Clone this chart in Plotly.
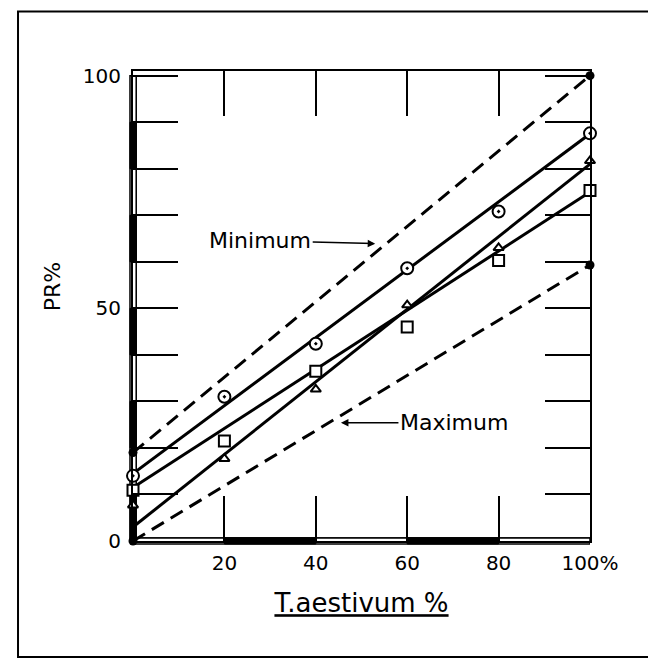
import plotly.graph_objects as go

# T. aestivum percentage in the mixture
x_vals = [0, 20, 40, 60, 80, 100]

# observed PR% values
pr_circle = [14, 31, 42.4, 58.6, 70.8, 87.6]
pr_square = [10.9, 21.5, 36.5, 46, 60.3, 75.3]
pr_triangle = [7.7, 17.7, 32.6, 50.7, 63, 81.7]

# fitted straight lines (end values)
fit_x = [0, 100]
fit_circle = [14.5, 87.5]
fit_square = [11.5, 75.0]
fit_triangle = [3.0, 81.0]

# theoretical limits
limit_x = [0, 100]
pr_minimum = [19, 100]
pr_maximum = [0, 59.3]

x_tickvals = [0, 20, 40, 60, 80, 100]
x_ticktext = ["", "20", "40", "60", "80", "100%"]
y_tickvals = [0, 10, 20, 30, 40, 50, 60, 70, 80, 90, 100]
y_ticktext = ["0", "", "", "", "", "50", "", "", "", "", "100"]

FONT = "DejaVu Sans"
fig = go.Figure()

dash_style = dict(color="black", width=3, dash="14px,8px")
fig.add_trace(go.Scatter(x=limit_x, y=pr_minimum, mode="lines+markers", cliponaxis=False,
                         line=dash_style, marker=dict(symbol="circle", size=9, color="black")))
fig.add_trace(go.Scatter(x=limit_x, y=pr_maximum, mode="lines+markers", cliponaxis=False,
                         line=dash_style, marker=dict(symbol="circle", size=9, color="black")))

solid = dict(color="black", width=3)
for fy in (fit_circle, fit_square, fit_triangle):
    fig.add_trace(go.Scatter(x=fit_x, y=fy, mode="lines", line=solid))

mk_line = dict(color="black", width=2)
fig.add_trace(go.Scatter(x=x_vals, y=pr_circle, mode="markers", cliponaxis=False,
                         marker=dict(symbol="circle-dot", size=12, color="white", line=mk_line)))
fig.add_trace(go.Scatter(x=x_vals, y=pr_square, mode="markers", cliponaxis=False,
                         marker=dict(symbol="square", size=11, color="white", line=mk_line)))
fig.add_trace(go.Scatter(x=x_vals, y=pr_triangle, mode="markers", cliponaxis=False,
                         marker=dict(symbol="triangle-up", size=9, color="white", line=mk_line)))

# scale-bar style axis lines (hollow bar with alternating filled segments);
# drawn twice (paper-ref below + data-ref between) so both halves of the bar show
shapes = [dict(type="rect", xref="paper", yref="paper", x0=-0.2516, x1=1.1379,
               y0=-0.2468, y1=1.1266, line=dict(color="black", width=2))]
for xref_v, x0v, x1v, layer in (("paper", -0.0066, 0.0066, "below"), ("x", -0.7, 0.7, "between")):
    shapes.append(dict(type="rect", xref=xref_v, yref="y", x0=x0v, x1=x1v,
                       y0=y_tickvals[0], y1=y_tickvals[-1], line=dict(color="black", width=1.5),
                       fillcolor="white", layer=layer))
    for lo, hi in zip(y_tickvals[:-1:2], y_tickvals[1::2]):
        shapes.append(dict(type="rect", xref=xref_v, yref="y", x0=x0v, x1=x1v,
                           y0=lo, y1=hi, line=dict(color="black", width=1), fillcolor="black",
                           layer=layer))
for yref_v, y0v, y1v, layer in (("paper", -0.0064, 0.0064, "below"), ("y", -0.65, 0.65, "between")):
    shapes.append(dict(type="rect", xref="x", yref=yref_v, x0=x_tickvals[0], x1=x_tickvals[-1],
                       y0=y0v, y1=y1v, line=dict(color="black", width=1.5),
                       fillcolor="white", layer=layer))
    for lo, hi in zip(x_tickvals[1:-1:2], x_tickvals[2::2]):
        shapes.append(dict(type="rect", xref="x", yref=yref_v, x0=lo, x1=hi,
                           y0=y0v, y1=y1v, line=dict(color="black", width=1),
                           fillcolor="black", layer=layer))

fig.update_layout(
    width=656, height=659,
    margin=dict(l=125, r=74, t=63, b=126),
    paper_bgcolor="white", plot_bgcolor="rgba(0,0,0,0)",
    showlegend=False,
    font=dict(family=FONT, size=20, color="black"),
    xaxis=dict(range=[0, 100], tickvals=x_tickvals, ticktext=x_ticktext,
               ticks="inside", ticklen=45, tickwidth=2, tickcolor="black",
               showline=True, linewidth=2, linecolor="black", mirror="ticks",
               showgrid=False, zeroline=False, ticklabelstandoff=3,
               title=dict(text="<u>T.aestivum %</u>", font=dict(size=26, family=FONT), standoff=20)),
    yaxis=dict(range=[0, 101], tickvals=y_tickvals, ticktext=y_ticktext,
               ticks="inside", ticklen=45, tickwidth=2, tickcolor="black",
               showline=True, linewidth=2, linecolor="black", mirror="ticks",
               showgrid=False, zeroline=False, ticklabelstandoff=6),
    annotations=[
        dict(x=-0.177, y=0.54, xref="paper", yref="paper", text="PR%", textangle=-90,
             xanchor="center", yanchor="middle",
             showarrow=False, font=dict(size=22, family=FONT)),
        dict(x=53, y=63.9, xref="x", yref="y", text="Minimum", showarrow=True,
             ax=-115, ay=-3, arrowhead=2, arrowsize=1, arrowwidth=1.5, arrowcolor="black",
             font=dict(size=22, family=FONT)),
        dict(x=45.5, y=25.4, xref="x", yref="y", text="Maximum", showarrow=True,
             ax=113, ay=0, arrowhead=2, arrowsize=1, arrowwidth=1.5, arrowcolor="black",
             font=dict(size=22, family=FONT)),
    ],
    shapes=shapes,
)

fig.write_html("out.html")
